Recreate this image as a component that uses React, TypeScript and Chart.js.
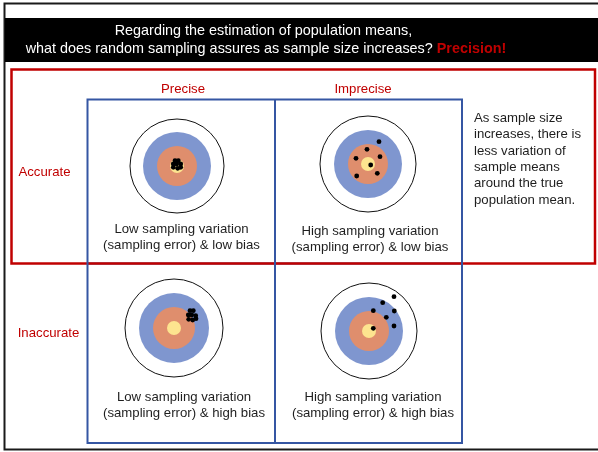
import React, { useEffect, useRef } from "react";
import { Chart, registerables } from "chart.js";

Chart.register(...registerables);

// Target centres (one per quadrant: TL, TR, BL, BR)
const targetX = [177, 368, 174, 369];
const targetY = [166, 164, 328, 331];
const outerRadius = [47, 48, 49, 48];
const blueRadius = [34, 34, 35, 34];
const orangeRadius = [20, 20, 21, 20];
const yellowRadius = [7, 7, 7, 7];

// Sample means (dots)
const dotX = [
  175, 178.3, 173.3, 176.7, 180.7, 173.3, 177.7, 180.7,
  379, 367, 356, 380, 370.7, 377.3, 356.7,
  190, 193.3, 188.3, 191.7, 195.7, 188.7, 192.7, 196,
  394, 382.7, 373.3, 394.3, 386.3, 394, 373.3,
];
const dotY = [
  160.7, 160.7, 164, 164, 164, 167.3, 168.3, 167.3,
  141.7, 149.3, 158.3, 156.7, 165, 173.3, 176,
  310.7, 310.7, 315, 315, 315.7, 319.3, 320, 318.7,
  296.7, 302.7, 310.7, 311, 317.3, 326, 328.3,
];

const titleLine1 = "Regarding the estimation of population means,";
const titleLine2 = "what does random sampling assures as sample size increases? ";
const titleHighlight = "Precision!";
const columnLabels = ["Precise", "Imprecise"];
const rowLabels = ["Accurate", "Inaccurate"];
const captions = [
  ["Low sampling variation", "(sampling error) & low bias"],
  ["High sampling variation", "(sampling error) & low bias"],
  ["Low sampling variation", "(sampling error) & high bias"],
  ["High sampling variation", "(sampling error) & high bias"],
];
const sideNote = [
  "As sample size",
  "increases, there is",
  "less variation of",
  "sample means",
  "around the true",
  "population mean.",
];

const RED = "#c00000";
const BLUE = "#3556a3";
const FONT = '"Liberation Sans", Arial, sans-serif';

const targetPoints = targetX.map((x, i) => ({ x, y: targetY[i] }));
const dotPoints = dotX.map((x, i) => ({ x, y: dotY[i] }));

const framePlugin = {
  id: "frames",
  beforeDatasetsDraw(chart: any) {
    const { ctx, scales } = chart;
    const X = (v: number) => scales.x.getPixelForValue(v);
    const Y = (v: number) => scales.y.getPixelForValue(v);
    ctx.save();
    // outer frame
    ctx.strokeStyle = "#1a1a1a";
    ctx.lineWidth = 2;
    ctx.beginPath();
    ctx.moveTo(X(600), Y(3.5));
    ctx.lineTo(X(4.5), Y(3.5));
    ctx.lineTo(X(4.5), Y(449.5));
    ctx.lineTo(X(600), Y(449.5));
    ctx.stroke();
    // title band
    ctx.fillStyle = "#000";
    ctx.fillRect(X(5), Y(18), X(598) - X(5), Y(62) - Y(18));
    // blue middle horizontal (under red)
    ctx.strokeStyle = BLUE;
    ctx.lineWidth = 2;
    ctx.beginPath();
    ctx.moveTo(X(87.5), Y(263.5));
    ctx.lineTo(X(462), Y(263.5));
    ctx.stroke();
    // red rectangle
    ctx.strokeStyle = RED;
    ctx.lineWidth = 2.5;
    ctx.strokeRect(X(11.5), Y(69.5), X(595) - X(11.5), Y(263.5) - Y(69.5));
    // blue grid
    ctx.strokeStyle = BLUE;
    ctx.lineWidth = 2;
    ctx.strokeRect(X(87.5), Y(99.5), X(462) - X(87.5), Y(443) - Y(99.5));
    ctx.beginPath();
    ctx.moveTo(X(275), Y(99.5));
    ctx.lineTo(X(275), Y(443));
    ctx.stroke();

    // texts
    ctx.textBaseline = "middle";
    ctx.textAlign = "left";
    ctx.font = `14.4px ${FONT}`;
    ctx.fillStyle = "#fff";
    const w1 = ctx.measureText(titleLine1).width;
    ctx.fillText(titleLine1, X(263.5) - w1 / 2, Y(31));
    const w2a = ctx.measureText(titleLine2).width;
    ctx.font = `bold 14.4px ${FONT}`;
    const w2b = ctx.measureText(titleHighlight).width;
    const start = X(266) - (w2a + w2b) / 2;
    ctx.font = `14.4px ${FONT}`;
    ctx.fillText(titleLine2, start, Y(49.5));
    ctx.font = `bold 14.4px ${FONT}`;
    ctx.fillStyle = RED;
    ctx.fillText(titleHighlight, start + w2a, Y(49.5));

    ctx.font = `13.2px ${FONT}`;
    ctx.textAlign = "center";
    ctx.fillStyle = RED;
    ctx.fillText(columnLabels[0], X(183), Y(89));
    ctx.fillText(columnLabels[1], X(363), Y(89));
    ctx.fillText(rowLabels[0], X(44.5), Y(172));
    ctx.fillText(rowLabels[1], X(48.5), Y(333));

    ctx.fillStyle = "#1e1e1e";
    const capX = [181.5, 370, 184, 373];
    const capY = [229.5, 231, 397, 397];
    captions.forEach((lines, i) => {
      lines.forEach((t, j) => ctx.fillText(t, X(capX[i]), Y(capY[i] + j * 16)));
    });
    ctx.textAlign = "left";
    sideNote.forEach((t, j) => ctx.fillText(t, X(474), Y(118.5 + j * 16.3)));
    ctx.restore();
  },
};

export default function App() {
  const ref = useRef<HTMLCanvasElement | null>(null);
  useEffect(() => {
    if (!ref.current) return;
    const ring = (label: string, radii: number[], fill: string, border: string, bw: number, order: number) => ({
      label,
      data: targetPoints,
      pointRadius: radii,
      pointHoverRadius: radii,
      backgroundColor: fill,
      borderColor: border,
      borderWidth: bw,
      pointBorderWidth: bw,
      order,
      clip: false,
    });
    const chart = new Chart(ref.current, {
      type: "scatter",
      data: {
        datasets: [
          ring("outer", outerRadius, "#ffffff", "#111111", 1, 5),
          ring("blue", blueRadius, "#7f96cf", "#7f96cf", 0, 4),
          ring("orange", orangeRadius, "#df8e6d", "#df8e6d", 0, 3),
          ring("yellow", yellowRadius, "#fde48f", "#fde48f", 0, 2),
          {
            label: "sample means",
            data: dotPoints,
            pointRadius: 2.4,
            backgroundColor: "#000",
            borderColor: "#000",
            borderWidth: 0,
            order: 1,
          },
        ],
      },
      options: {
        animation: false,
        responsive: false,
        maintainAspectRatio: false,
        layout: { padding: 0, autoPadding: false },
        plugins: { legend: { display: false }, tooltip: { enabled: false } },
        scales: {
          x: { type: "linear", min: 0, max: 598, display: false },
          y: { type: "linear", min: 0, max: 452, reverse: true, display: false },
        },
      },
      plugins: [framePlugin],
    } as any);
    return () => chart.destroy();
  }, []);
  return (
    <div style={{ position: "fixed", left: 0, top: 0, width: 598, height: 452, background: "#fff" }}>
      <canvas ref={ref} width={598} height={452} style={{ width: 598, height: 452 }} />
    </div>
  );
}
